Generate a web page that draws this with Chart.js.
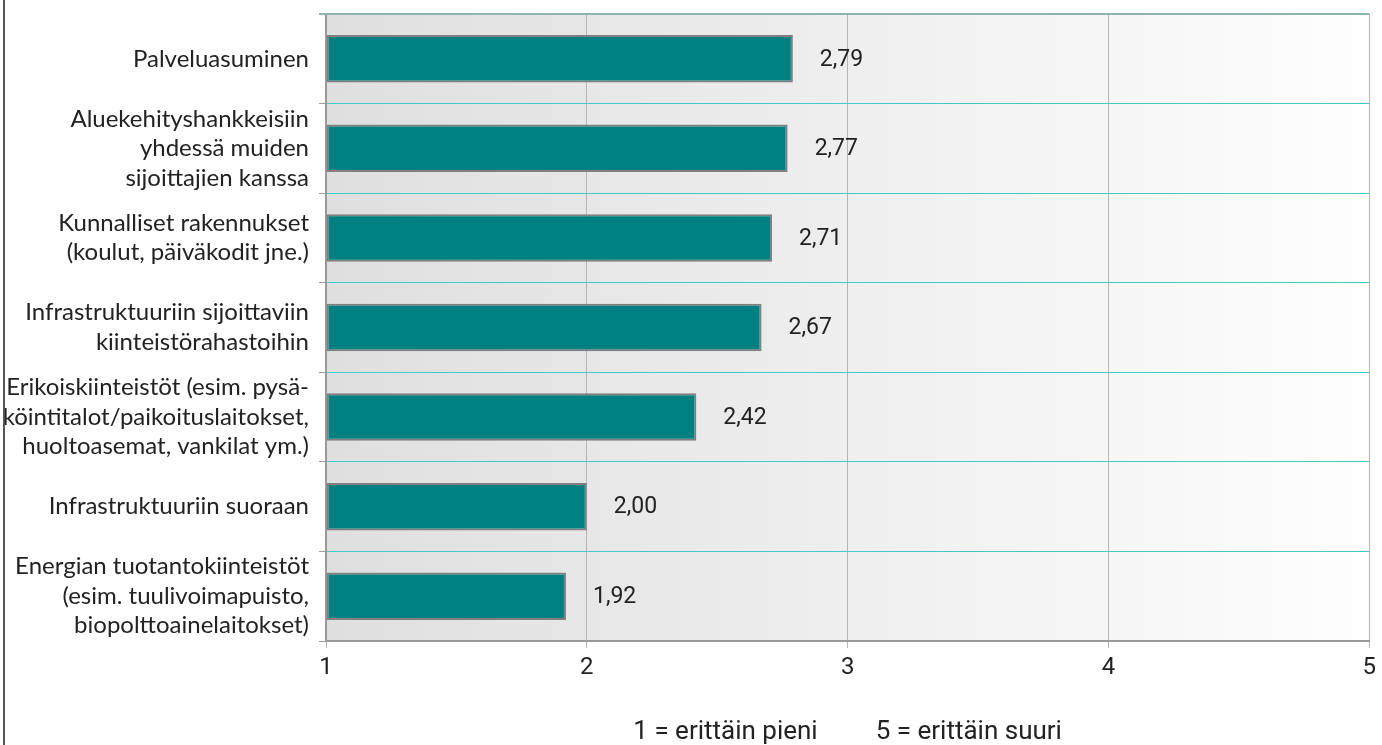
<!DOCTYPE html>
<html>
<head>
<meta charset="utf-8">
<script src="https://cdn.jsdelivr.net/npm/chart.js@4"></script>
<style>
    html, body { margin: 0; padding: 0; background: #fff; }
    #wrap { width: 1382px; height: 745px; position: relative; }
</style>
</head>
<body>
<div id="wrap"><canvas id="chartSijoitus"></canvas></div>
<script>
// Kategoriat (monirivinen teksti taulukkoina)
const kategoriat = [
    ['Palveluasuminen'],
    ['Aluekehityshankkeisiin', 'yhdessä muiden', 'sijoittajien kanssa'],
    ['Kunnalliset rakennukset', '(koulut, päiväkodit jne.)'],
    ['Infrastruktuuriin sijoittaviin', 'kiinteistörahastoihin'],
    ['Erikoiskiinteistöt (esim. pysä-', 'köintitalot/paikoituslaitokset,', 'huoltoasemat, vankilat ym.)'],
    ['Infrastruktuuriin suoraan'],
    ['Energian tuotantokiinteistöt', '(esim. tuulivoimapuisto,', 'biopolttoainelaitokset)']
];
const arvot = [2.79, 2.77, 2.71, 2.67, 2.42, 2.00, 1.92];
const arvoTekstit = ['2,79', '2,77', '2,71', '2,67', '2,42', '2,00', '1,92'];
const asteikko = [1, 2, 3, 4, 5];
const selite = '1 = erittäin pieni         5 = erittäin suuri';

// Taustaliukuväri ja kehykset
const taustaPlugin = {
    id: 'tausta',
    beforeDraw(chart) {
        const { ctx, chartArea: a } = chart;
        const g = ctx.createLinearGradient(a.left, 0, a.right, 0);
        g.addColorStop(0, '#dfdfdf');
        g.addColorStop(1, '#fefefe');
        ctx.save();
        ctx.fillStyle = g;
        ctx.fillRect(a.left, a.top, a.right - a.left, a.bottom - a.top);
        ctx.restore();
    },
    afterDraw(chart) {
        const { ctx, chartArea: a } = chart;
        ctx.save();
        ctx.strokeStyle = '#8fb3b3';
        ctx.lineWidth = 2;
        ctx.beginPath();
        ctx.moveTo(a.left - 7, a.top);
        ctx.lineTo(a.right, a.top);
        ctx.stroke();
        ctx.strokeStyle = '#555';
        ctx.lineWidth = 2;
        ctx.beginPath();
        ctx.moveTo(4, 0);
        ctx.lineTo(4, chart.height);
        ctx.stroke();
        ctx.restore();
    }
};

// Arvotekstit pylväiden perään
const arvoPlugin = {
    id: 'arvot',
    afterDatasetsDraw(chart) {
        const { ctx } = chart;
        const meta = chart.getDatasetMeta(0);
        ctx.save();
        ctx.font = '23px Roboto';
        ctx.fillStyle = '#222';
        ctx.textBaseline = 'middle';
        meta.data.forEach((el, i) => {
            ctx.fillText(arvoTekstit[i], el.x + 27, el.y + 1);
        });
        ctx.restore();
    }
};

new Chart(document.getElementById('chartSijoitus'), {
    type: 'bar',
    data: {
        labels: kategoriat,
        datasets: [{
            data: arvot,
            base: 1,
            backgroundColor: '#008080',
            borderColor: '#808080',
            borderWidth: 2,
            borderSkipped: false,
            categoryPercentage: 1,
            barPercentage: 0.53
        }]
    },
    options: {
        indexAxis: 'y',
        responsive: true,
        maintainAspectRatio: false,
        animation: false,
        layout: { padding: { top: 14, right: 12, left: 0, bottom: 0 } },
        plugins: {
            legend: { display: false },
            tooltip: { enabled: false }
        },
        scales: {
            x: {
                min: 1,
                max: 5,
                afterBuildTicks(scale) {
                    scale.ticks = asteikko.map(v => ({ value: v }));
                },
                afterFit(scale) { scale.height = 104; },
                grid: { color: '#b5b5b5', tickColor: '#b5b5b5', tickLength: 7, lineWidth: 1 },
                border: { color: '#9a9a9a', width: 2 },
                ticks: {
                    color: '#222',
                    font: { family: 'Roboto', size: 24 },
                    padding: 6,
                    maxRotation: 0,
                    callback: v => String(v)
                },
                title: {
                    display: true,
                    text: selite,
                    color: '#222',
                    font: { family: 'Roboto', size: 26, lineHeight: 1.0 },
                    padding: { top: 0, bottom: 0 }
                }
            },
            y: {
                afterFit(scale) {
                    scale.width = 326;
                    scale.paddingTop = 0;
                    scale.paddingBottom = 0;
                },
                grid: { color: '#45c8c8', tickColor: '#9a9a9a', tickLength: 7, lineWidth: 1 },
                border: { color: '#9a9a9a', width: 2 },
                ticks: {
                    autoSkip: false,
                    color: '#222',
                    font: { family: 'Lato', size: 24, lineHeight: 1.23 },
                    padding: 10
                }
            }
        }
    },
    plugins: [taustaPlugin, arvoPlugin]
});
</script>
</body>
</html>
